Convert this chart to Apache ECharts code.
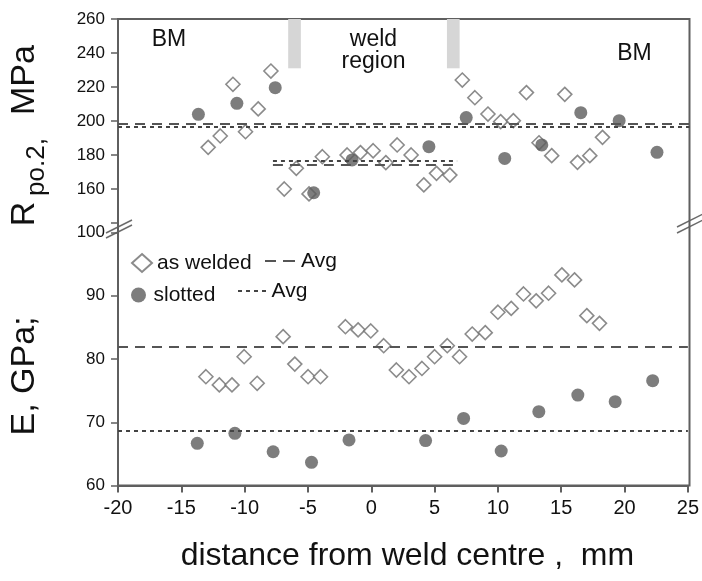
<!DOCTYPE html>
<html>
<head>
<meta charset="utf-8">
<script src="https://cdn.jsdelivr.net/npm/echarts@6/dist/echarts.min.js"></script>
<style>
  html, body { margin: 0; padding: 0; background: #fff; }
  #chart { width: 702px; height: 581px; }
</style>
</head>
<body>
<div id="chart"></div>
<script>
// ---------- data ----------
const xRange = [-20, 25];
const xTicks = [-20, -15, -10, -5, 0, 5, 10, 15, 20, 25];
const rTicks = [160, 180, 200, 220, 240, 260];
const eTicks = [60, 70, 80, 90, 100];

// Rp0.2 (MPa), as welded
const weldedRx = [-12.9, -11.95, -10.95, -9.96, -8.96, -7.96, -6.91, -5.96, -4.96, -3.91, -1.96, -0.91, 0.09, 1.09, 1.98, 3.08, 4.08, 5.08, 6.13, 7.11, 8.1, 9.13, 10.13, 11.13, 12.16, 13.15, 14.15, 15.18, 16.18, 17.15, 18.15];
const weldedR  = [184.5, 191.2, 221.6, 193.7, 207.1, 229.4, 160.0, 172.2, 157.1, 179.0, 180.0, 181.4, 182.5, 175.5, 185.9, 180.0, 162.4, 169.2, 168.2, 224.1, 213.7, 204.1, 199.6, 200.2, 216.7, 187.2, 179.6, 215.7, 175.7, 179.6, 190.4];
// Rp0.2 (MPa), slotted
const slottedRx = [-13.67, -10.64, -7.62, -4.59, -1.57, 4.48, 7.42, 10.45, 13.37, 16.44, 19.46, 22.44];
const slottedR  = [203.9, 210.4, 219.6, 157.8, 177.1, 184.9, 202.0, 178.0, 185.9, 204.9, 200.2, 181.6];

// E (GPa), as welded
const weldedEx = [-13.06, -12.0, -11.0, -10.04, -9.01, -6.96, -6.04, -4.99, -4.01, -2.04, -1.04, -0.04, 0.98, 1.98, 2.98, 4.0, 5.0, 6.0, 6.97, 7.97, 9.0, 10.0, 11.05, 12.02, 13.02, 14.0, 15.05, 16.05, 17.02, 18.02];
const weldedE  = [77.2, 75.9, 75.9, 80.36, 76.16, 83.53, 79.2, 77.2, 77.2, 85.1, 84.6, 84.43, 82.1, 78.26, 77.2, 78.5, 80.36, 82.1, 80.36, 83.95, 84.16, 87.4, 88.0, 90.28, 89.2, 90.4, 93.3, 92.5, 86.85, 85.64];
// E (GPa), slotted
const slottedEx = [-13.74, -10.77, -7.75, -4.72, -1.76, 4.29, 7.29, 10.26, 13.23, 16.31, 19.26, 22.22];
const slottedE  = [66.67, 68.25, 65.34, 63.67, 67.2, 67.1, 70.6, 65.45, 71.67, 74.3, 73.25, 76.57];

// averages: [base metal Rp0.2, weld region Rp0.2, E]
const avgWelded  = [198.6, 174.1, 82.0];
const avgSlotted = [196.6, 176.6, 68.6];
const weldAvgSpan = [-7.8, 6.7];
// weld region boundary markers (x ranges) and their lower Rp0.2 level
const weldBounds = [[-6.6, -5.6], [5.9, 6.9]];
const boundLow = 231;

const zip = (xs, ys) => xs.map((x, i) => [x, ys[i]]);

// ---------- chart ----------
const chart = echarts.init(document.getElementById('chart'), null, { renderer: 'canvas' });
const FONT = 'Liberation Sans, Arial, sans-serif';
const AX = '#5f5f5f';
const L = 118, R = 689.5, T = 19, B = 485.5;

const dashLong = [10, 7];
const dashShort = [4, 4];
const iconLong = 'path://M0,0h11v2h-11zM18,0h12v2h-12z';
const iconShort = 'path://M0,0h4v2h-4zM8,0h4v2h-4zM16,0h4v2h-4zM24,0h4v2h-4z';

const diamondStyle = { color: '#ffffff', borderColor: '#6e6e6e', borderWidth: 1.6 };
const circleStyle = { color: '#5c5c5c' };

function legendOne(name, left, top, w, h, opts) {
  return Object.assign({
    data: [name], left: left, top: top, padding: 0, orient: 'horizontal',
    itemWidth: w, itemHeight: h, selectedMode: false,
    textStyle: { fontFamily: FONT, fontSize: 21, color: '#111', lineHeight: 22 }
  }, opts || {});
}

const option = {
  animation: false,
  backgroundColor: '#ffffff',
  grid: [
    { left: L, right: 702 - R, top: T, height: 204 },
    { left: L, right: 702 - R, top: 232.5, height: B - 232.5 }
  ],
  xAxis: [
    { gridIndex: 0, type: 'value', min: xRange[0], max: xRange[1], interval: 5, show: false,
      axisLine: { onZero: false } },
    {
      gridIndex: 1, type: 'value', min: xRange[0], max: xRange[1], interval: 5,
      axisLine: { show: true, onZero: false, lineStyle: { color: AX, width: 2 } },
      axisTick: { show: true, inside: false, length: 7, lineStyle: { color: AX, width: 2 } },
      splitLine: { show: false },
      axisLabel: { margin: 13, fontFamily: FONT, fontSize: 20, color: '#111',
        formatter: v => (xTicks.indexOf(v) >= 0 ? String(v) : '') },
      name: 'distance from weld centre ,  mm',
      nameLocation: 'middle', nameGap: 55,
      nameTextStyle: { fontFamily: FONT, fontSize: 32, color: '#111', padding: [0, 0, 0, 9] }
    }
  ],
  yAxis: [
    {
      gridIndex: 0, type: 'value', min: 140, max: 260, interval: 20,
      axisLine: { show: true, onZero: false, lineStyle: { color: AX, width: 2 } },
      axisTick: { show: true, inside: false, length: 7, lineStyle: { color: AX, width: 1.5 } },
      splitLine: { show: false },
      axisLabel: { margin: 13, fontFamily: FONT, fontSize: 17, color: '#111',
        formatter: v => (rTicks.indexOf(v) >= 0 ? String(v) : '') }
    },
    {
      gridIndex: 1, type: 'value', min: 60, max: 100, interval: 10,
      axisLine: { show: true, onZero: false, lineStyle: { color: AX, width: 2 } },
      axisTick: { show: true, inside: false, length: 7, lineStyle: { color: AX, width: 1.5 } },
      splitLine: { show: false },
      axisLabel: { margin: 13, fontFamily: FONT, fontSize: 17, color: '#111',
        formatter: v => (eTicks.indexOf(v) >= 0 ? String(v) : '') }
    }
  ],
  legend: [
    legendOne('as welded', 131, 252, 20, 18),
    legendOne('as welded avg', 265, 250, 32, 2, {
      formatter: () => 'Avg', icon: iconLong,
      itemStyle: { color: '#555', borderWidth: 0 }
    }),
    legendOne('slotted', 131, 284, 20, 15),
    legendOne('slotted avg', 238, 280, 29, 2, {
      formatter: () => 'Avg', icon: iconShort,
      itemStyle: { color: '#444', borderWidth: 0 }
    })
  ],
  series: [
    {
      name: 'as welded', type: 'scatter', xAxisIndex: 0, yAxisIndex: 0, z: 3,
      symbol: 'diamond', symbolSize: 14, itemStyle: diamondStyle,
      data: zip(weldedRx, weldedR),
      markArea: {
        silent: true, itemStyle: { color: '#d6d6d6' },
        data: weldBounds.map(b => [{ xAxis: b[0], yAxis: boundLow }, { xAxis: b[1], yAxis: 260 }])
      }
    },
    {
      name: 'as welded', type: 'scatter', xAxisIndex: 1, yAxisIndex: 1, z: 3,
      symbol: 'diamond', symbolSize: 14, itemStyle: diamondStyle,
      data: zip(weldedEx, weldedE)
    },
    {
      name: 'slotted', type: 'scatter', xAxisIndex: 0, yAxisIndex: 0, z: 4,
      symbol: 'circle', symbolSize: 13, itemStyle: circleStyle,
      data: zip(slottedRx, slottedR)
    },
    {
      name: 'slotted', type: 'scatter', xAxisIndex: 1, yAxisIndex: 1, z: 4,
      symbol: 'circle', symbolSize: 13, itemStyle: circleStyle,
      data: zip(slottedEx, slottedE)
    },
    {
      name: 'as welded avg', type: 'line', xAxisIndex: 0, yAxisIndex: 0, z: 2,
      symbol: 'none', showSymbol: false, data: [], itemStyle: { color: '#555' },
      lineStyle: { color: '#555', width: 2, type: dashLong },
      markLine: {
        silent: true, symbol: ['none', 'none'], label: { show: false },
        lineStyle: { color: '#555', width: 2, type: dashLong },
        data: [
          { yAxis: avgWelded[0] },
          [{ coord: [weldAvgSpan[0], avgWelded[1]] }, { coord: [weldAvgSpan[1], avgWelded[1]] }]
        ]
      }
    },
    {
      name: 'as welded avg', type: 'line', xAxisIndex: 1, yAxisIndex: 1, z: 2,
      symbol: 'none', showSymbol: false, data: [], itemStyle: { color: '#555' },
      lineStyle: { color: '#555', width: 2, type: dashLong },
      markLine: {
        silent: true, symbol: ['none', 'none'], label: { show: false },
        lineStyle: { color: '#555', width: 2, type: dashLong },
        data: [{ yAxis: avgWelded[2] }]
      }
    },
    {
      name: 'slotted avg', type: 'line', xAxisIndex: 0, yAxisIndex: 0, z: 2,
      symbol: 'none', showSymbol: false, data: [], itemStyle: { color: '#444' },
      lineStyle: { color: '#444', width: 2, type: dashShort },
      markLine: {
        silent: true, symbol: ['none', 'none'], label: { show: false },
        lineStyle: { color: '#444', width: 2, type: dashShort },
        data: [
          { yAxis: avgSlotted[0] },
          [{ coord: [weldAvgSpan[0], avgSlotted[1]] }, { coord: [weldAvgSpan[1], avgSlotted[1]] }]
        ]
      }
    },
    {
      name: 'slotted avg', type: 'line', xAxisIndex: 1, yAxisIndex: 1, z: 2,
      symbol: 'none', showSymbol: false, data: [], itemStyle: { color: '#444' },
      lineStyle: { color: '#444', width: 2, type: dashShort },
      markLine: {
        silent: true, symbol: ['none', 'none'], label: { show: false },
        lineStyle: { color: '#444', width: 2, type: dashShort },
        data: [{ yAxis: avgSlotted[2] }]
      }
    }
  ],
  graphic: [
    // plot frame
    { type: 'rect', z: 1, silent: true, shape: { x: L, y: T, width: R - L, height: B - T },
      style: { fill: 'none', stroke: AX, lineWidth: 2 } },
    // axis break marks
    { type: 'line', silent: true, shape: { x1: 106, y1: 233, x2: 132, y2: 220 }, style: { stroke: '#6a6a6a', lineWidth: 1.5 } },
    { type: 'line', silent: true, shape: { x1: 106, y1: 238, x2: 132, y2: 225 }, style: { stroke: '#6a6a6a', lineWidth: 1.5 } },
    { type: 'line', silent: true, shape: { x1: 677, y1: 233, x2: 703, y2: 220 }, style: { stroke: '#6a6a6a', lineWidth: 1.5 } },
    { type: 'line', silent: true, shape: { x1: 677, y1: 227, x2: 703, y2: 214 }, style: { stroke: '#6a6a6a', lineWidth: 1.5 } },
    // region annotations
    { type: 'text', x: 169, y: 40, style: { text: 'BM', font: '23px ' + FONT, fill: '#111', align: 'center', verticalAlign: 'middle' } },
    { type: 'text', x: 373.5, y: 40, style: { text: 'weld', font: '23px ' + FONT, fill: '#111', align: 'center', verticalAlign: 'middle' } },
    { type: 'text', x: 373.5, y: 62, style: { text: 'region', font: '23px ' + FONT, fill: '#111', align: 'center', verticalAlign: 'middle' } },
    { type: 'text', x: 634.5, y: 54, style: { text: 'BM', font: '23px ' + FONT, fill: '#111', align: 'center', verticalAlign: 'middle' } },
    // y axis title (rotated)
    { type: 'text', x: 25, y: 376, rotation: Math.PI / 2, style: { text: 'E, GPa;', font: '34px ' + FONT, fill: '#111', align: 'center', verticalAlign: 'middle' } },
    { type: 'text', x: 25, y: 214, rotation: Math.PI / 2, style: { text: 'R', font: '34px ' + FONT, fill: '#111', align: 'center', verticalAlign: 'middle' } },
    { type: 'text', x: 37, y: 167, rotation: Math.PI / 2, style: { text: 'po.2,', font: '26px ' + FONT, fill: '#111', align: 'center', verticalAlign: 'middle' } },
    { type: 'text', x: 25, y: 80, rotation: Math.PI / 2, style: { text: 'MPa', font: '34px ' + FONT, fill: '#111', align: 'center', verticalAlign: 'middle' } }
  ]
};

chart.setOption(option);
</script>
</body>
</html>
